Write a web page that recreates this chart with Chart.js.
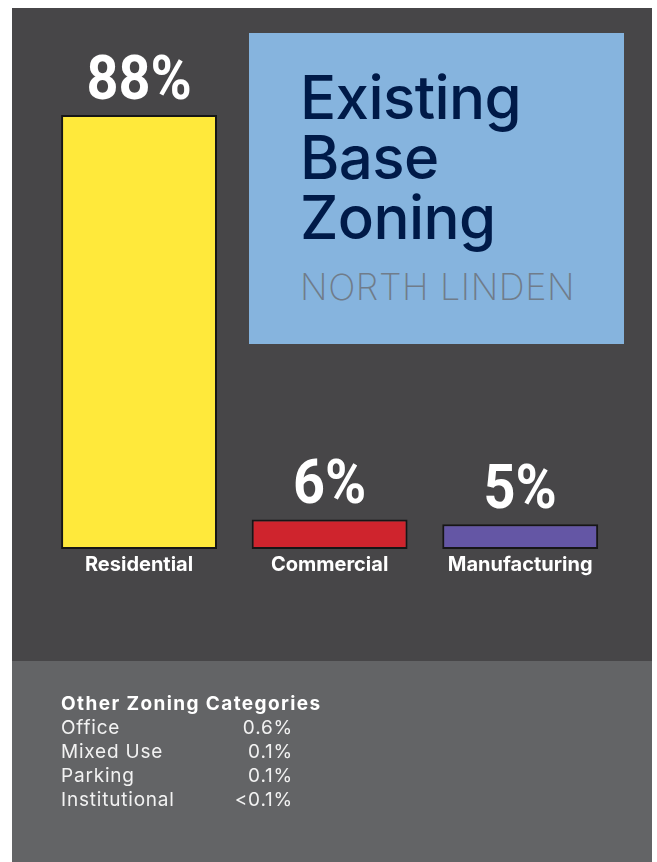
<!DOCTYPE html>
<html>
<head>
<meta charset="utf-8">
<script src="https://cdn.jsdelivr.net/npm/chart.js@4.4.1/dist/chart.umd.min.js"></script>
<style>
  html, body { margin: 0; padding: 0; background: #ffffff; }
  #page { position: relative; width: 657px; height: 862px; overflow: hidden; }
  #dark { position: absolute; left: 12px; top: 8px; width: 640px; height: 653px; background: #474648; }
  #light { position: absolute; left: 12px; top: 661px; width: 640px; height: 201px; background: #636466; }
  #titlebox { position: absolute; left: 249px; top: 33px; width: 375px; height: 311px; background: #86b4de; }
  #title { position: absolute; left: 300px; top: 67px; font-family: Inter, "Noto Sans", sans-serif; font-weight: 500; font-size: 60px; line-height: 60px; color: #001a48; letter-spacing: -0.6px; white-space: nowrap; }
  #subtitle { position: absolute; left: 300px; top: 269px; font-family: Inter, "Noto Sans", sans-serif; font-weight: 200; font-size: 36px; line-height: 36px; color: #707c8a; letter-spacing: 0.6px; white-space: nowrap; }
  #chart { position: absolute; left: 0; top: 0; }
  #other { position: absolute; left: 61px; top: 692px; font-family: Inter, "Noto Sans", sans-serif; font-size: 19px; line-height: 24px; color: #f2f2f2; letter-spacing: 0.8px; }
  #other .hd { font-weight: 700; color: #ffffff; white-space: nowrap; letter-spacing: 1.4px; }
  #other .row { display: flex; justify-content: space-between; width: 232px; white-space: nowrap; }
</style>
</head>
<body>
<div id="page">
  <div id="dark"></div>
  <div id="light"></div>
  <div id="titlebox"></div>
  <div id="title">Existing<br>Base<br>Zoning</div>
  <div id="subtitle">NORTH LINDEN</div>
  <canvas id="chart" width="657" height="862"></canvas>
  <div id="other"></div>
</div>
<script>
// ---- data ----
const categories = ["Residential", "Commercial", "Manufacturing"];
const shares = [88, 6, 5];
const valueLabels = ["88%", "6%", "5%"];
const barColors = ["#ffe93b", "#cf242d", "#6456a5"];

const otherCategories = ["Office", "Mixed Use", "Parking", "Institutional"];
const otherValues = ["0.6%", "0.1%", "0.1%", "<0.1%"];
const otherHeading = "Other Zoning Categories";

// ---- other categories table ----
const other = document.getElementById("other");
const hd = document.createElement("div");
hd.className = "hd";
hd.textContent = otherHeading;
other.appendChild(hd);
otherCategories.forEach((c, i) => {
  const row = document.createElement("div");
  row.className = "row";
  const a = document.createElement("span"); a.textContent = c;
  const b = document.createElement("span"); b.textContent = otherValues[i];
  row.appendChild(a); row.appendChild(b);
  other.appendChild(row);
});

// ---- value label plugin ----
const valueLabelPlugin = {
  id: "valueLabels",
  afterDatasetsDraw(chart) {
    const ctx = chart.ctx;
    const meta = chart.getDatasetMeta(0);
    ctx.save();
    ctx.fillStyle = "#ffffff";
    ctx.textAlign = "center";
    ctx.textBaseline = "alphabetic";
    meta.data.forEach((bar, i) => {
      ctx.save();
      ctx.translate(bar.x, bar.y - 16);
      ctx.scale(0.9, 1);
      ctx.font = "bold 62px Roboto, 'Liberation Sans', sans-serif";
      ctx.fillText(valueLabels[i], 0, 0);
      ctx.restore();
    });
    ctx.restore();
  }
};

new Chart(document.getElementById("chart"), {
  type: "bar",
  data: {
    labels: categories,
    datasets: [{
      data: shares,
      backgroundColor: barColors,
      borderColor: "#161616",
      borderWidth: 2,
      borderSkipped: false,
      categoryPercentage: 1.0,
      barPercentage: 0.818
    }]
  },
  options: {
    responsive: false,
    animation: false,
    layout: { padding: { left: 43.75, right: 41.5, top: 55.8, bottom: 281 } },
    plugins: { legend: { display: false }, tooltip: { enabled: false }, title: { display: false } },
    scales: {
      x: {
        grid: { display: false, drawTicks: false },
        border: { display: false },
        ticks: {
          color: "#ffffff",
          padding: 4,
          font: { family: "Inter, 'Noto Sans', sans-serif", weight: "bold", size: 20, lineHeight: 1.2 }
        }
      },
      y: {
        display: false,
        min: 0,
        max: 100
      }
    }
  },
  plugins: [valueLabelPlugin]
});
</script>
</body>
</html>
